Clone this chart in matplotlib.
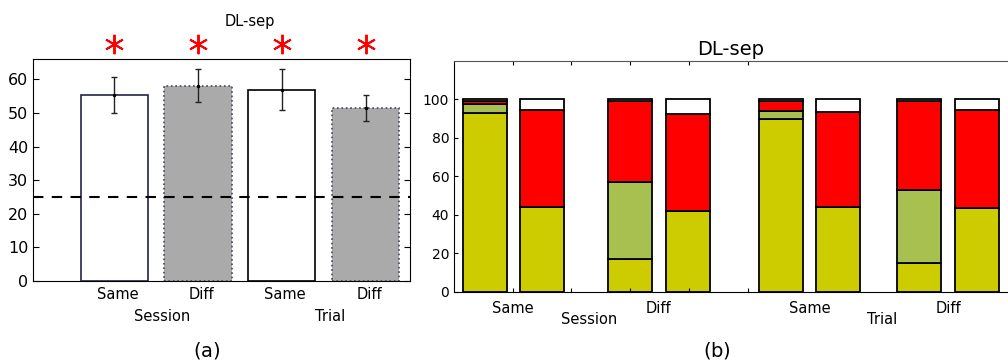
import matplotlib
matplotlib.use('Agg')
import matplotlib.pyplot as plt
import numpy as np

# (a) mean accuracy per condition
cond_labels = ['Same', 'Diff', 'Same', 'Diff']
group_labels = ['Session', 'Trial']
means = [55.4, 58.2, 57.0, 51.5]
errs = [5.4, 4.9, 6.2, 4.0]
chance = 25

# (b) stacked percentages, 8 bars (two per condition)
seg_yellow = [93.0, 44.3, 17.0, 42.3, 89.9, 44.3, 14.9, 43.5]
seg_green = [4.5, 0.0, 40.3, 0.0, 4.3, 0.0, 38.1, 0.0]
seg_red = [1.5, 50.1, 42.1, 50.0, 5.2, 49.4, 46.1, 51.2]
seg_white = [1.0, 5.6, 0.6, 7.7, 0.6, 6.3, 0.9, 5.3]

fig = plt.figure(figsize=(10.08, 3.63), dpi=100)

# ---------- (a) ----------
ax1 = fig.add_axes([0.033, 0.2259, 0.3737, 0.6107])
xa = np.arange(1, 5)
faces = ['white', '#aaaaaa', 'white', '#aaaaaa']
edges = ['#22224a', '#44445a', 'black', '#44445a']
styles = ['-', ':', '-', ':']
for i in range(4):
    ax1.bar(xa[i], means[i], width=0.8, color=faces[i], edgecolor=edges[i],
            linewidth=1.2, linestyle=styles[i])
ax1.errorbar(xa, means, yerr=errs, fmt='.', color='black', ecolor='#222222',
             markersize=3, capsize=2, elinewidth=1)
ax1.axhline(chance, color='black', linestyle='--', dashes=(5, 4), linewidth=1.5)
ax1.set_xlim(0.036, 4.527)
ax1.set_ylim(0, 66)
ax1.set_yticks(np.arange(0, 61, 10))
ax1.tick_params(axis='y', direction='in', right=True, labelsize=11.5, length=4)
ax1.set_xticks(xa + 0.04)
ax1.set_xticklabels(cond_labels, fontsize=10.5)
ax1.tick_params(axis='x', length=0, pad=4)
for j, g in enumerate(group_labels):
    ax1.text(1.57 + 2 * j, -0.125, g, transform=ax1.get_xaxis_transform(),
             ha='center', va='top', fontsize=10.5)
ax1.plot(xa, [70.5] * 4, linestyle='none', marker=(6, 2, 0), color='red',
         markersize=14, markeredgewidth=1.4, clip_on=False)
fig.text(0.248, 0.94, 'DL-sep', ha='center', va='center', fontsize=10.5)
fig.text(0.205, 0.035, r'$\mathrm{(a)}$', ha='center', va='center', fontsize=14)

# ---------- (b) ----------
ax2 = fig.add_axes([0.4504, 0.1956, 0.565, 0.6364])
xb = np.array([0.15, 1.12, 2.62, 3.61, 5.2, 6.17, 7.55, 8.53])
w = 0.75
colors = ['#cccc00', '#a8c050', '#ff0000', 'white']
bottom = np.zeros(len(xb))
for seg, c in zip([seg_yellow, seg_green, seg_red, seg_white], colors):
    ax2.bar(xb, seg, width=w, bottom=bottom, align='edge', color=c,
            edgecolor='black', linewidth=1.3)
    bottom += np.array(seg)
ax2.set_xlim(0, 9.70)
ax2.set_ylim(0, 120)
ax2.set_yticks(np.arange(0, 101, 20))
ax2.set_xticks([1, 2, 3, 4, 5])
ax2.set_xticklabels([])
ax2.tick_params(axis='both', direction='in', top=True, labelsize=10, length=3)
ax2.spines['top'].set_color('#555555')
centers = xb + w / 2
pair_c = (centers[0::2] + centers[1::2]) / 2
for j, p in enumerate(pair_c):
    ax2.text(p, -0.04, cond_labels[j], transform=ax2.get_xaxis_transform(),
             ha='center', va='top', fontsize=10.5)
for j in range(2):
    m = (pair_c[2 * j] + pair_c[2 * j + 1]) / 2
    ax2.text(m + 0.05, -0.085, group_labels[j], transform=ax2.get_xaxis_transform(),
             ha='center', va='top', fontsize=10.5)
ax2.set_title('DL-sep', fontsize=14, x=0.485, pad=4)
fig.text(0.711, 0.035, r'$\mathrm{(b)}$', ha='center', va='center', fontsize=14)

plt.savefig('out.png', dpi=100)
